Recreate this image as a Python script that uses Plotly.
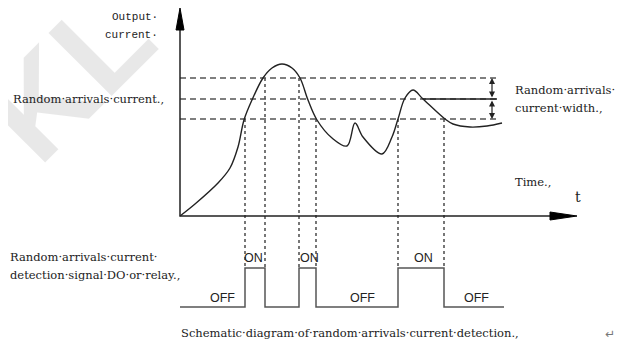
import plotly.graph_objects as go

# schematic units: t = time from the origin, i = output current (origin at 0, 0)
curve_t = [0, 15, 38, 50, 58, 64, 72, 83, 92, 102, 112, 120, 128, 137, 152, 167, 175,
           183, 202, 212, 218, 225, 233, 243, 265, 273, 290, 307, 322]
curve_i = [0, 12, 33, 48, 69, 96, 116, 138, 148, 152, 148, 138, 116, 96, 78, 70, 93,
           79, 62, 79, 97, 118, 126, 117, 97, 92, 89, 90, 93]

level_upper = 138
level_set = 117
level_lower = 97
level_end_t = 317
set_line_start_t = 243
width_arrow_t = 312

# detection switching instants and where their guide lines start
switch_t = [65, 85, 119, 136, 218, 264]
switch_from = [97, 138, 138, 97, 97, 97]

# DO / relay signal
pulse_t = [0, 65, 85, 119, 136, 218, 264, 324]
pulse_state = [0, 1, 0, 1, 0, 1, 0, 0]
pulse_low = -91
pulse_high = -52
state_labels = ["OFF", "ON", "ON", "OFF", "ON", "OFF"]
state_label_t = [42, 73, 129, 182, 243, 296]

axis_t_end = 397
axis_i_end = 208

INK = "#222222"
DASH = "#555555"
SERIF = "DejaVu Serif"

fig = go.Figure()

# threshold lines
for lvl in [level_upper, level_set, level_lower]:
    fig.add_trace(go.Scatter(x=[0, level_end_t], y=[lvl, lvl], mode="lines",
                             line=dict(color=DASH, width=1.4, dash="6px,4px")))
fig.add_trace(go.Scatter(x=[set_line_start_t, level_end_t], y=[level_set, level_set],
                         mode="lines", line=dict(color=INK, width=1.3)))

# vertical guide lines down to the signal
for t, top in zip(switch_t, switch_from):
    fig.add_trace(go.Scatter(x=[t, t], y=[top, pulse_high], mode="lines",
                             line=dict(color=DASH, width=1.6, dash="3px,3px")))

# current curve
fig.add_trace(go.Scatter(x=curve_t, y=curve_i, mode="lines",
                         line=dict(color=INK, width=1.4, shape="spline", smoothing=1.0)))

# signal
pulse_y = [pulse_high if s else pulse_low for s in pulse_state]
fig.add_trace(go.Scatter(x=pulse_t, y=pulse_y, mode="lines",
                         line=dict(color="#555555", width=1.5, shape="hv")))

# axes
fig.add_trace(go.Scatter(x=[0, 0, axis_t_end - 20], y=[axis_i_end - 20, 0, 0], mode="lines",
                         line=dict(color=INK, width=1.5)))
fig.add_trace(go.Scatter(x=[-4, 0, 4, -4], y=[axis_i_end - 22, axis_i_end, axis_i_end - 22, axis_i_end - 22],
                         mode="lines", fill="toself", fillcolor="black",
                         line=dict(color="black", width=1)))
fig.add_trace(go.Scatter(x=[axis_t_end - 27, axis_t_end, axis_t_end - 27, axis_t_end - 27],
                         y=[4, 0, -4, 4], mode="lines", fill="toself", fillcolor="black",
                         line=dict(color="black", width=1)))

annotations = [
    dict(x=-112, y=140, text="<b>KL</b>", textangle=-45, showarrow=False,
         font=dict(family="Arial", size=130, color="rgba(0,0,0,0.09)")),
]

# width arrows
for a, b in [(level_set, level_upper), (level_set, level_lower)]:
    annotations.append(dict(x=width_arrow_t, y=b, ax=width_arrow_t, ay=a, xref="x", yref="y",
                            axref="x", ayref="y", text="", showarrow=True, arrowhead=2,
                            arrowside="end+start", arrowsize=1, arrowwidth=1.2, arrowcolor=INK))

for lab, t in zip(state_labels, state_label_t):
    annotations.append(dict(x=t, y=pulse_low + 9 if lab == "OFF" else pulse_high + 10,
                            text=lab, showarrow=False,
                            font=dict(family="Liberation Sans", size=12.5, color=INK)))


def txt(x, y, s, size=11.5, family=SERIF, anchor="left", color=INK):
    annotations.append(dict(x=x, y=y, text=s, showarrow=False, xanchor=anchor,
                            font=dict(family=family, size=size, color=color)))


txt(-20, 199, "Output·", size=11, family="Liberation Mono", anchor="right")
txt(-20, 181, "current·", size=11, family="Liberation Mono", anchor="right")
txt(-169, 117, "Random·arrivals·current.,")
txt(333, 126, "Random·arrivals·.")
txt(333, 108, "current·width.,")
txt(333, 34, "Time.,")
txt(393, 19, "t", size=14)
txt(-172, -41, "Random·arrivals·current·")
txt(-172, -59, "detection·signal·DO·or·relay.,")
txt(-1, -117, "Schematic·diagram·of·random·arrivals·current·detection.,")
txt(437, -118, "↵", size=12, family="DejaVu Sans", color="#777777", anchor="right")

# the page body adds an 8 px offset, so the figure is 8 px smaller and the range starts 8 px later
fig.update_layout(
    width=615, height=332,
    margin=dict(l=0, r=0, t=0, b=0),
    paper_bgcolor="white", plot_bgcolor="white",
    showlegend=False,
    xaxis=dict(range=[-172, 443], visible=False, fixedrange=True),
    yaxis=dict(range=[-124, 208], visible=False, fixedrange=True),
    annotations=annotations,
)

fig.write_html("out.html")
